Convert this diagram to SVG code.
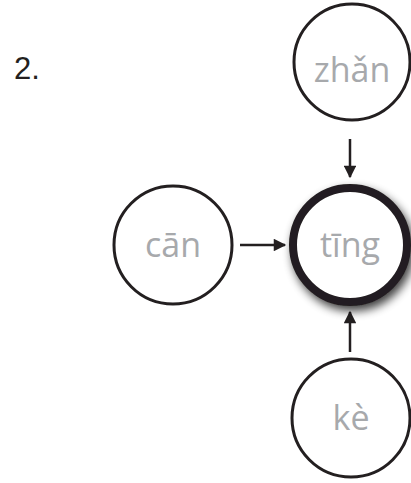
<svg xmlns="http://www.w3.org/2000/svg" width="411" height="483" viewBox="0 0 411 483">
<style>
.node{fill:#fff;stroke:#231f20;stroke-width:3}
.hub{fill:#fff;stroke:#231f20;stroke-width:8}
.lbl{font-family:"Open Sans","Noto Sans",sans-serif;font-size:34px;fill:#a7a9ac;text-anchor:middle}
.conn{stroke:#231f20;stroke-width:2.5;fill:none}
</style>
<defs>
<marker id="ah" viewBox="0 0 10 10" refX="9" refY="5" markerWidth="5.5" markerHeight="5" orient="auto" markerUnits="strokeWidth">
<path d="M0,0 L10,5 L0,10 z" fill="#231f20"/>
</marker>
<filter id="sh" x="-30%" y="-30%" width="160%" height="160%">
<feGaussianBlur in="SourceAlpha" stdDeviation="5"/>
<feOffset dx="3" dy="5" result="b"/>
<feComponentTransfer><feFuncA type="linear" slope="0.75"/></feComponentTransfer>
<feMerge><feMergeNode/><feMergeNode in="SourceGraphic"/></feMerge>
</filter>
</defs>
<text x="14" y="79" font-family="Liberation Sans, Arial, sans-serif" font-size="31" fill="#231f20">2.</text>
<g id="connectors">
<line class="conn" x1="350" y1="139" x2="350" y2="177" marker-end="url(#ah)"/>
<line class="conn" x1="240" y1="245" x2="285" y2="245" marker-end="url(#ah)"/>
<line class="conn" x1="350" y1="352" x2="350" y2="312" marker-end="url(#ah)"/>
</g>
<g id="zhan"><circle class="node" cx="352" cy="62" r="58"/><text class="lbl" x="352" y="82">zhǎn</text></g>
<g id="can"><circle class="node" cx="173" cy="245" r="59"/><text class="lbl" x="173" y="257">cān</text></g>
<g id="ting"><circle class="hub" cx="350" cy="245" r="57" filter="url(#sh)"/><text class="lbl" x="350" y="257">tīng</text></g>
<g id="ke"><circle class="node" cx="351" cy="418" r="59"/><text class="lbl" x="351" y="430">kè</text></g>
</svg>
